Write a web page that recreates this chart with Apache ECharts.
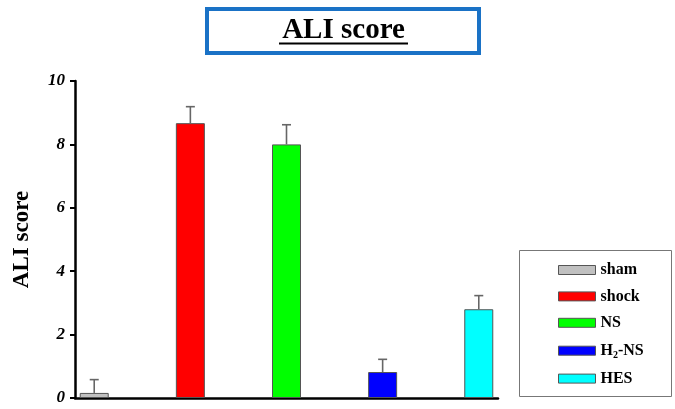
<!DOCTYPE html>
<html>
<head>
<meta charset="utf-8">
<script src="https://cdn.jsdelivr.net/npm/echarts@6/dist/echarts.min.js"></script>
<style>
  html, body { margin: 0; padding: 0; background: #fff; }
  #chart { width: 675px; height: 409px; }
</style>
</head>
<body>
<div id="chart"></div>
<script>
// Groups, mean scores and standard deviations
const groups = ['sham', 'shock', 'NS', 'H2-NS', 'HES'];
const means = [0.16, 8.67, 8.0, 0.82, 2.80];
const sds = [0.42, 0.52, 0.62, 0.40, 0.43];
const colors = ['#c0c0c0', '#ff0000', '#00ff00', '#0000ff', '#00ffff'];
const yTicks = [0, 2, 4, 6, 8, 10];

const serif = '"Liberation Serif", "Times New Roman", serif';

const chart = echarts.init(document.getElementById('chart'));

// One bar series per group so each gets its own legend entry
const barSeries = groups.map((g, i) => ({
  name: g,
  type: 'bar',
  stack: 'all',
  barWidth: 29,
  data: [[i, means[i]]],
  itemStyle: { color: colors[i], borderColor: '#555', borderWidth: 1 },
  z: 2
}));

// Upper error bars with a single cap
const errorSeries = {
  type: 'custom',
  name: 'error',
  data: groups.map((g, i) => [i, means[i], means[i] + sds[i]]),
  renderItem: function (params, api) {
    const x = api.value(0);
    const base = api.coord([x, api.value(1)]);
    const top = api.coord([x, api.value(2)]);
    const half = 4.5;
    const style = { stroke: '#666', lineWidth: 1.6 };
    return {
      type: 'group',
      children: [
        { type: 'line', shape: { x1: base[0], y1: base[1], x2: top[0], y2: top[1] }, style: style },
        { type: 'line', shape: { x1: top[0] - half, y1: top[1], x2: top[0] + half, y2: top[1] }, style: style }
      ]
    };
  },
  z: 3,
  silent: true
};

chart.setOption({
  animation: false,
  backgroundColor: '#fff',
  grid: { left: 75, right: 177, top: 81, bottom: 11, outerBoundsMode: 'none' },
  xAxis: {
    type: 'value',
    min: -0.2,
    max: 4.2,
    axisLine: { show: true, onZero: false, lineStyle: { color: '#000', width: 2.5 } },
    axisTick: { show: false },
    axisLabel: { show: false },
    splitLine: { show: false }
  },
  yAxis: {
    type: 'value',
    min: yTicks[0],
    max: yTicks[yTicks.length - 1],
    interval: 2,
    name: 'ALI score',
    nameLocation: 'middle',
    nameRotate: 90,
    nameGap: 41,
    nameMoveOverlap: false,
    nameTextStyle: { fontFamily: serif, fontWeight: 'bold', fontSize: 23, color: '#000' },
    axisLine: { show: true, onZero: false, lineStyle: { color: '#000', width: 2.5 } },
    axisTick: { show: true, inside: false, length: 5, lineStyle: { color: '#000', width: 2 } },
    axisLabel: { fontFamily: serif, fontWeight: 'bold', fontStyle: 'italic', fontSize: 17, color: '#000', margin: 10 },
    splitLine: { show: false }
  },
  legend: {
    orient: 'vertical',
    left: 553,
    top: 257,
    icon: 'rect',
    itemWidth: 37,
    itemHeight: 9,
    itemGap: 10.4,
    data: groups,
    itemStyle: { borderColor: '#555', borderWidth: 1 },
    textStyle: {
      fontFamily: serif, fontWeight: 'bold', fontSize: 16, color: '#000', lineHeight: 16,
      rich: {
        b: { fontFamily: serif, fontWeight: 'bold', fontSize: 16, color: '#000', lineHeight: 16 },
        sub: { fontFamily: serif, fontWeight: 'bold', fontSize: 10, color: '#000', lineHeight: 16, padding: [9, 0, 0, 0] }
      }
    },
    formatter: function (name) {
      if (name === 'H2-NS') return '{b|H}{sub|2}{b|-NS}';
      return '{b|' + name + '}';
    }
  },
  graphic: [
    // Title frame
    { type: 'rect', shape: { x: 207, y: 9, width: 272, height: 44 }, style: { fill: '#fff', stroke: '#1a72c6', lineWidth: 4 }, z: 10 },
    { type: 'text', x: 343.5, y: 31, style: { text: 'ALI score', font: 'bold 29px ' + serif, fill: '#000', textAlign: 'center', textVerticalAlign: 'middle' }, z: 11 },
    { type: 'line', shape: { x1: 279, y1: 43.5, x2: 408, y2: 43.5 }, style: { stroke: '#000', lineWidth: 2 }, z: 11 },
    // Legend frame
    { type: 'rect', shape: { x: 519.5, y: 250.5, width: 152, height: 146 }, style: { fill: 'none', stroke: '#777', lineWidth: 1 }, z: 1 }
  ],
  series: barSeries.concat([errorSeries])
});
</script>
</body>
</html>
